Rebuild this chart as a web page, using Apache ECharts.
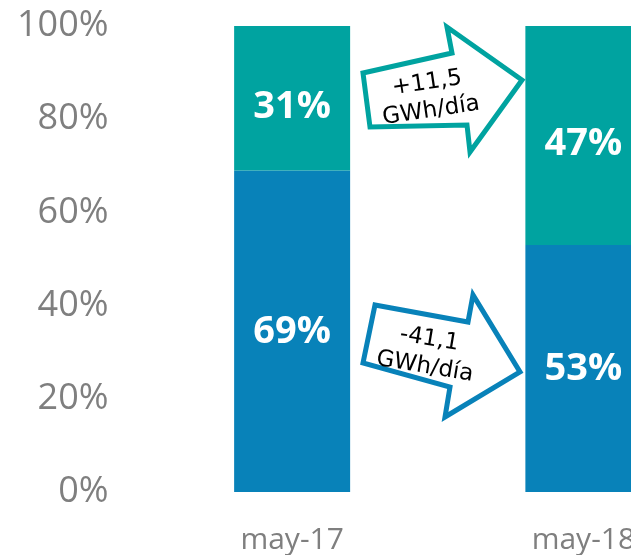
<!DOCTYPE html>
<html>
<head>
<meta charset="utf-8">
<script src="https://cdn.jsdelivr.net/npm/echarts@6/dist/echarts.min.js"></script>
<style>
    html, body { margin: 0; padding: 0; background: #fff; overflow: hidden; }
    /* el gráfico original está recortado por la derecha */
    #main { width: 729px; height: 555px; }
</style>
</head>
<body>
<div id="main"></div>
<script>
    // datos
    let categories = ['may-17', 'may-18'];
    let bajo = [69, 53];   // parte azul
    let alto = [31, 47];   // parte verde
    let yTicks = [0, 20, 40, 60, 80, 100];
    let flechaArriba = '+11,5\nGWh/día';
    let flechaAbajo = '-41,1\nGWh/día';

    let verde = '#00A3A0';
    let azul = '#0882B9';

    let myChart = echarts.init(document.getElementById('main'));

    function labelCfg(dy) {
        return {
            show: true,
            position: 'inside',
            offset: [0, dy],
            formatter: '{c}%',
            color: '#fff',
            fontFamily: 'Open Sans',
            fontWeight: 'bold',
            fontSize: 38
        };
    }

    let option = {
        animation: false,
        grid: {
            left: 146.5,
            right: 0,
            top: 26,
            bottom: 63
        },
        xAxis: {
            type: 'category',
            data: categories,
            axisLine: { show: false },
            axisTick: { show: false },
            axisLabel: {
                color: '#7F7F7F',
                fontFamily: 'Open Sans',
                fontSize: 30,
                margin: 33
            }
        },
        yAxis: {
            type: 'value',
            min: yTicks[0],
            max: yTicks[yTicks.length - 1],
            interval: 20,
            splitLine: { show: false },
            axisLine: { show: false },
            axisTick: { show: false },
            axisLabel: {
                color: '#7F7F7F',
                fontFamily: 'Open Sans',
                fontSize: 36,
                margin: 38,
                formatter: '{value}%'
            }
        },
        series: [{
            name: 'bajo',
            type: 'bar',
            stack: 'total',
            barWidth: 116,
            data: bajo,
            itemStyle: { color: azul },
            label: labelCfg(1)
        }, {
            name: 'alto',
            type: 'bar',
            stack: 'total',
            barWidth: 116,
            data: alto,
            itemStyle: { color: verde },
            label: labelCfg(9)
        }],
        graphic: [{
            type: 'polygon',
            shape: {
                points: [[363, 73], [452, 53], [447, 27], [522, 80], [470, 152], [467, 125], [370, 127]]
            },
            style: { fill: '#fff', stroke: verde, lineWidth: 5, lineJoin: 'miter' },
            z: 100
        }, {
            type: 'text',
            x: 429, y: 97,
            rotation: 0.15,
            style: {
                text: flechaArriba,
                fill: '#000',
                font: '23px "DejaVu Sans"',
                align: 'center',
                verticalAlign: 'middle',
                lineHeight: 28
            },
            z: 101
        }, {
            type: 'polygon',
            shape: {
                points: [[375, 305], [468, 322], [473, 295], [520, 372], [445, 417], [450, 387], [363, 363]]
            },
            style: { fill: '#fff', stroke: azul, lineWidth: 5, lineJoin: 'miter' },
            z: 100
        }, {
            type: 'text',
            x: 427, y: 353,
            rotation: -0.165,
            style: {
                text: flechaAbajo,
                fill: '#000',
                font: '23px "DejaVu Sans"',
                align: 'center',
                verticalAlign: 'middle',
                lineHeight: 28
            },
            z: 101
        }]
    };
    myChart.setOption(option);
</script>
</body>
</html>
